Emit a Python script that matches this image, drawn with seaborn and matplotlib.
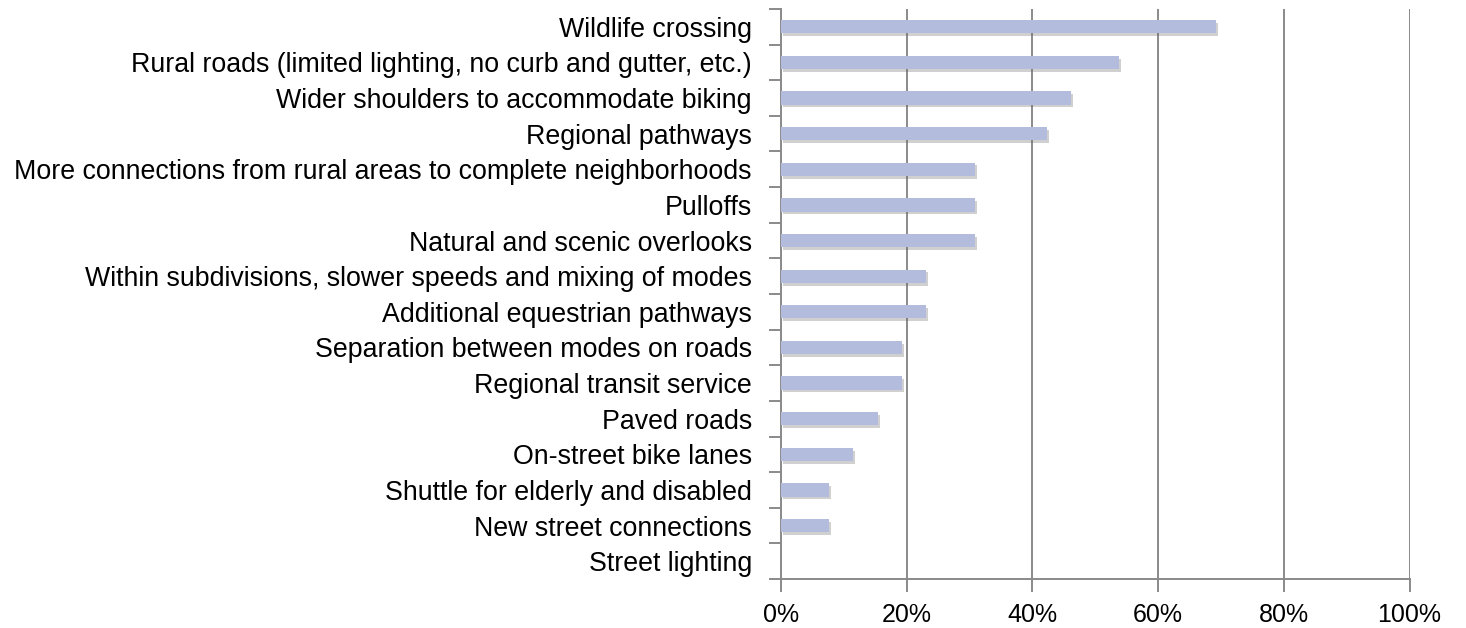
import matplotlib
matplotlib.use("Agg")
import matplotlib.pyplot as plt
import matplotlib.patheffects as pe
from matplotlib.ticker import FuncFormatter, FixedLocator
import seaborn as sns
import pandas as pd

categories = [
    "Wildlife crossing",
    "Rural roads (limited lighting, no curb and gutter, etc.)",
    "Wider shoulders to accommodate biking",
    "Regional pathways",
    "More connections from rural areas to complete neighborhoods",
    "Pulloffs",
    "Natural and scenic overlooks",
    "Within subdivisions, slower speeds and mixing of modes",
    "Additional equestrian pathways",
    "Separation between modes on roads",
    "Regional transit service",
    "Paved roads",
    "On-street bike lanes",
    "Shuttle for elderly and disabled",
    "New street connections",
    "Street lighting",
]
values = [69.2, 53.8, 46.2, 42.3, 30.8, 30.8, 30.8, 23.1, 23.1, 19.2, 19.2, 15.4, 11.5, 7.7, 7.7, 0.0]
xticks = [0, 20, 40, 60, 80, 100]

df = pd.DataFrame({"category": categories, "value": values})

sns.set_theme(style="white")
plt.rcParams["font.family"] = ["Liberation Sans", "DejaVu Sans"]

fig = plt.figure(figsize=(14.66, 6.28), dpi=100)
ax = fig.add_axes([0.5327, 0.078, 0.9615 - 0.5327, 0.9857 - 0.078])

grid_col = "#8a8a8a"
sns.barplot(data=df, x="value", y="category", orient="h", color="#b3bcdd",
            saturation=1, width=0.37, ax=ax, zorder=3)
for p in ax.patches:
    p.set_path_effects([pe.SimplePatchShadow(offset=(1.5, -2), shadow_rgbFace="#666666", alpha=0.3),
                        pe.Normal()])
    p.set_linewidth(0)

ax.set_xlim(0, 100)
ax.set_ylim(len(categories) - 0.5, -0.5)
ax.set_xticks(xticks)
ax.xaxis.set_major_formatter(FuncFormatter(lambda v, _: f"{v:.0f}%"))
ax.xaxis.grid(True, color=grid_col, linewidth=1.4, zorder=0)
ax.set_axisbelow(True)
ax.set_xlabel("")
ax.set_ylabel("")

# y ticks at category boundaries, labels centered
ax.set_yticks([i - 0.5 for i in range(len(categories) + 1)])
ax.set_yticklabels([])
ax.yaxis.set_minor_locator(FixedLocator(range(len(categories))))
ax.set_yticklabels(categories, minor=True)
ax.tick_params(axis="y", which="major", direction="out", length=9, width=1.4, color=grid_col, left=True)
ax.tick_params(axis="y", which="minor", length=0, pad=21, labelsize=19.3, labelcolor="black")
ax.tick_params(axis="x", direction="out", length=9, width=1.4, color=grid_col, bottom=True,
               pad=8, labelsize=18, labelcolor="black")

for s in ["top", "right"]:
    ax.spines[s].set_visible(False)
for s in ["left", "bottom"]:
    ax.spines[s].set_color(grid_col)
    ax.spines[s].set_linewidth(1.4)

fig.savefig("out.png", dpi=100)
